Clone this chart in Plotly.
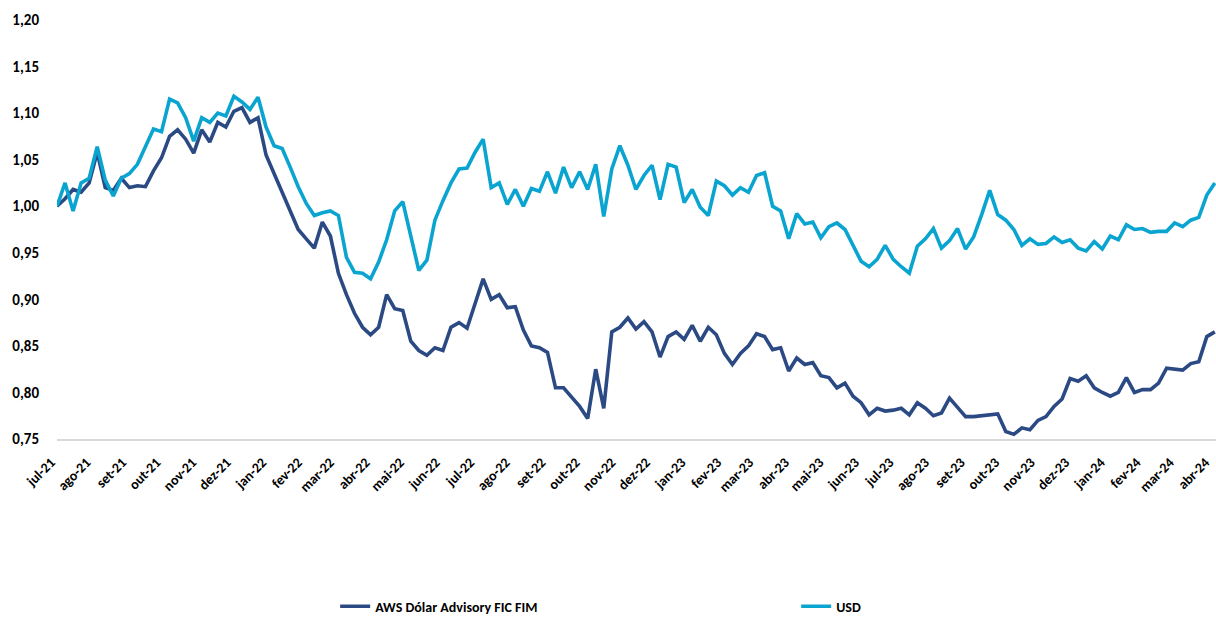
import pandas as pd
import plotly.graph_objects as go

# Weekly sampling dates (Thursday, starting 1 Jul 2021)
dates = pd.date_range("2021-07-01", periods=145, freq="7D")

aws = [
    1.000, 1.008, 1.018, 1.015, 1.025, 1.058, 1.020, 1.017, 1.030, 1.020,
    1.022, 1.021, 1.038, 1.052, 1.075, 1.082, 1.072, 1.057, 1.082, 1.069,
    1.090, 1.085, 1.102, 1.106, 1.090, 1.095, 1.055, 1.035, 1.015, 0.995,
    0.975, 0.965, 0.955, 0.983, 0.968, 0.928, 0.905, 0.885, 0.870, 0.862,
    0.870, 0.905, 0.890, 0.888, 0.855, 0.845, 0.840, 0.848, 0.845, 0.870,
    0.875, 0.869, 0.895, 0.922, 0.900, 0.905, 0.891, 0.892, 0.867, 0.850,
    0.848, 0.843, 0.805, 0.805, 0.795, 0.785, 0.772, 0.825, 0.783, 0.865,
    0.870, 0.880, 0.868, 0.876, 0.865, 0.838, 0.860, 0.865, 0.857, 0.872,
    0.855, 0.870, 0.862, 0.842, 0.830, 0.842, 0.850, 0.863, 0.860, 0.846,
    0.848, 0.823, 0.837, 0.830, 0.832, 0.818, 0.816, 0.805, 0.810, 0.796,
    0.789, 0.776, 0.783, 0.780, 0.781, 0.783, 0.776, 0.789, 0.783, 0.775,
    0.778, 0.794, 0.784, 0.774, 0.774, 0.775, 0.776, 0.777, 0.758, 0.755,
    0.762, 0.760, 0.770, 0.774, 0.785, 0.793, 0.815, 0.812, 0.818, 0.805,
    0.800, 0.796, 0.800, 0.816, 0.800, 0.803, 0.803, 0.810, 0.826, 0.825,
    0.824, 0.831, 0.833, 0.860, 0.865,
]

usd = [
    1.000, 1.025, 0.995, 1.025, 1.030, 1.064, 1.028, 1.011, 1.030, 1.035,
    1.045, 1.063, 1.083, 1.080, 1.115, 1.111, 1.095, 1.070, 1.095, 1.090,
    1.100, 1.097, 1.118, 1.112, 1.104, 1.117, 1.085, 1.065, 1.062, 1.042,
    1.021, 1.003, 0.990, 0.993, 0.995, 0.990, 0.945, 0.929, 0.928, 0.922,
    0.940, 0.964, 0.995, 1.005, 0.966, 0.931, 0.942, 0.985, 1.006, 1.025,
    1.040, 1.041, 1.058, 1.072, 1.020, 1.025, 1.002, 1.018, 1.000, 1.019,
    1.016, 1.037, 1.014, 1.042, 1.020, 1.037, 1.018, 1.045, 0.989, 1.040,
    1.065, 1.044, 1.018, 1.033, 1.044, 1.007, 1.045, 1.042, 1.004, 1.018,
    0.999, 0.990, 1.027, 1.022, 1.012, 1.020, 1.015, 1.033, 1.036, 1.000,
    0.995, 0.965, 0.992, 0.981, 0.983, 0.966, 0.978, 0.982, 0.975, 0.959,
    0.941, 0.935, 0.943, 0.958, 0.943, 0.935, 0.928, 0.957, 0.965, 0.976,
    0.955, 0.963, 0.976, 0.954, 0.967, 0.991, 1.017, 0.991, 0.985, 0.975,
    0.958, 0.965, 0.959, 0.960, 0.967, 0.961, 0.964, 0.955, 0.952, 0.962,
    0.954, 0.968, 0.964, 0.980, 0.975, 0.976, 0.972, 0.973, 0.973, 0.982,
    0.978, 0.985, 0.988, 1.012, 1.025,
]

series_names = ["AWS Dólar Advisory FIC FIM", "USD"]
series_colors = ["#2B4A84", "#0AA4D0"]

tick_dates = pd.date_range("2021-07-01", "2024-04-01", freq="MS")
tick_labels = [
    "jul-21", "ago-21", "set-21", "out-21", "nov-21", "dez-21",
    "jan-22", "fev-22", "mar-22", "abr-22", "mai-22", "jun-22",
    "jul-22", "ago-22", "set-22", "out-22", "nov-22", "dez-22",
    "jan-23", "fev-23", "mar-23", "abr-23", "mai-23", "jun-23",
    "jul-23", "ago-23", "set-23", "out-23", "nov-23", "dez-23",
    "jan-24", "fev-24", "mar-24", "abr-24",
]
y_ticks = [0.75, 0.80, 0.85, 0.90, 0.95, 1.00, 1.05, 1.10, 1.15, 1.20]

FONT = "Calibri, Carlito, Lato, 'Open Sans', sans-serif"

fig = go.Figure()
for name, vals, col in zip(series_names, [aws, usd], series_colors):
    fig.add_trace(go.Scatter(
        x=dates, y=vals, mode="lines", name=name,
        line=dict(color=col, width=3.6),
    ))

fig.update_layout(
    width=1216, height=617,
    margin=dict(l=57, r=0, t=20, b=178, autoexpand=False),
    paper_bgcolor="white", plot_bgcolor="white",
    separators=",.",
    font=dict(family=FONT, size=14, color="#000000"),
    showlegend=True,
    legend=dict(
        orientation="h", x=0.240, xanchor="left", y=-0.40, yanchor="middle",
        entrywidth=416, entrywidthmode="pixels",
        font=dict(family=FONT, size=14, color="#000000", weight="bold"),
        bgcolor="rgba(0,0,0,0)",
    ),
    xaxis=dict(
        type="date",
        range=["2021-07-01", "2024-04-05"],
        tickvals=list(tick_dates), ticktext=tick_labels,
        tickangle=-45, automargin=False, ticklabeloverflow="allow",
        ticklabelshift=-6,
        tickfont=dict(family=FONT, size=14, color="#000000", weight="bold"),
        showgrid=False, zeroline=False,
        showline=True, linecolor="#D9D9D9", linewidth=1.5,
        ticks="outside", ticklen=8, tickcolor="rgba(0,0,0,0)",
    ),
    yaxis=dict(
        range=[0.75, 1.20], automargin=False,
        tickvals=y_ticks, tickformat=".2f",
        tickfont=dict(family=FONT, size=15, color="#000000", weight="bold"),
        showgrid=False, zeroline=False, showline=False,
        ticks="outside", ticklen=14, tickcolor="rgba(0,0,0,0)",
    ),
)

fig.write_html(
    "out.html",
    config={"displayModeBar": False},
    post_script="document.body.style.margin='0';document.body.style.overflow='hidden';",
)
